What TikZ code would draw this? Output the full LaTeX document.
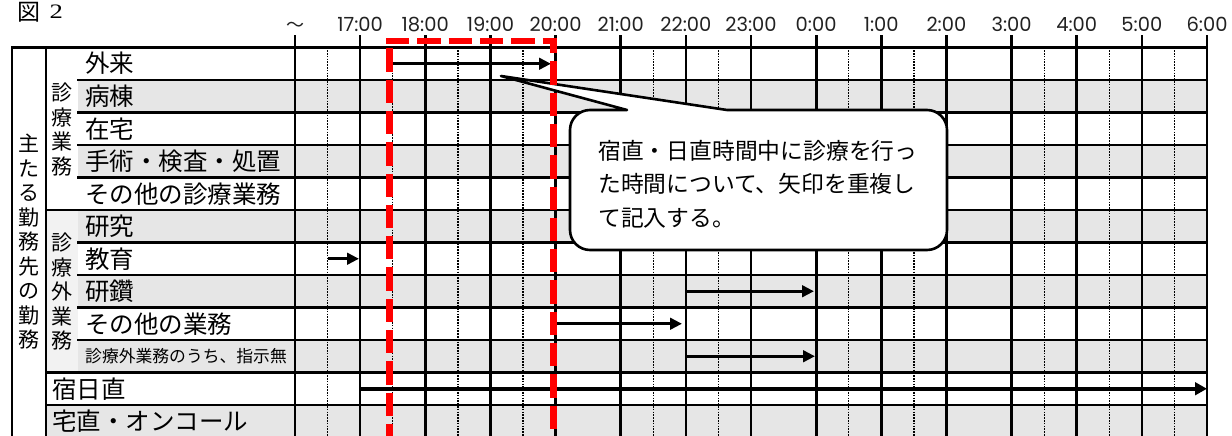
\documentclass[tikz,border=0pt]{standalone}
\usepackage{fontspec}
\newfontfamily\jp{Noto Sans CJK JP}
\newfontfamily\tm{Poppins}
\newfontfamily\sr{Liberation Serif}
\usetikzlibrary{arrows.meta}
\definecolor{rowgray}{HTML}{E6E6E6}
\definecolor{colgray}{HTML}{F2F2F2}
\definecolor{dashred}{HTML}{FF0000}
\definecolor{timeink}{HTML}{222222}
\tikzset{
  gridline/.style={line width=2.7pt, line cap=rect},
  halfline/.style={line width=1.3pt, dash pattern=on 1.6pt off 1.2pt},
  rowlabel/.style={font=\jp\fontsize{24.5}{24.5}\selectfont, anchor=base west, inner sep=0pt},
  smalllabel/.style={font=\jp\fontsize{16.8}{16.8}\selectfont, anchor=base west, inner sep=0pt},
  vlabel/.style={font=\jp\fontsize{21}{24.5}\selectfont, align=center, inner sep=0pt},
  timelabel/.style={font=\tm\fontsize{19.5}{19.5}\selectfont, text=timeink, anchor=base, inner sep=0pt},
  calltext/.style={font=\jp\fontsize{22.8}{22.8}\selectfont, anchor=base west, inner sep=0pt},
  timearrow/.style={line width=3.3pt, -{Triangle[length=12pt,width=11.5pt]}},
  longarrow/.style={line width=4.3pt, -{Triangle[length=12pt,width=12.5pt]}},
  calloutshape/.style={line width=2.6pt, fill=white, line join=round},
  reddash/.style={draw=dashred, line width=6.6pt, dash pattern=on 23.3pt off 8pt},
}
\begin{document}
\begin{tikzpicture}[x=1pt,y=-1pt]
\useasboundingbox (0,0) rectangle (1232,436);
\clip (0,0) rectangle (1232,436);
\fill[white] (0,0) rectangle (1232,436);

% shading
\foreach \r in {1,3,5,7,9}{
  \fill[rowgray] (78,{47.5+32.5*\r}) rectangle (1207,{80+32.5*\r});
}
\fill[rowgray] (46,405) rectangle (1207,440);
\fill[colgray] (46,210) rectangle (78,372.5);

% half-hour dotted lines
\foreach \h in {0,1,2,3,5,6,8,9,11,12,13}{
  \draw[halfline] ({295+65.143*(\h+0.5)},47.5) -- ({295+65.143*(\h+0.5)},440);
}
% hour lines
\foreach \k in {0,...,14}{
  \draw[gridline] ({295+65.143*\k},36) -- ({295+65.143*\k},440);
}
% left borders
\draw[gridline] (12,47.5) -- (12,440);
\draw[gridline] (46,47.5) -- (46,440);
% horizontal lines
\foreach \y/\xs in {47.5/12, 80/78, 112.5/78, 145/78, 177.5/78, 210/46, 242.5/78, 275/78, 307.5/78, 340/78, 372.5/46, 405/46}{
  \draw[gridline] (\xs,\y) -- (1207,\y);
}

% header
\node[anchor=base west, font=\jp\fontsize{23}{23}\selectfont, inner sep=0pt] (fig) at (17.5,20.5) {図};
\node[anchor=base west, font=\sr\fontsize{20.5}{20.5}\selectfont, inner sep=0pt] (fignum) at (49.5,18.8) {\scalebox{1.3}[1]{2}};

% time labels
\node[timelabel, font=\jp\fontsize{18}{18}\selectfont] (t0) at (295,32) {～};
\foreach \k/\t in {1/17:00,2/18:00,3/19:00,4/20:00,5/21:00,6/22:00,7/23:00,8/0:00,9/1:00,10/2:00,11/3:00,12/4:00,13/5:00,14/6:00}{
  \node[timelabel] (t\k) at ({295+65.143*\k},32) {\t};
}

% vertical labels
\node[vlabel] (main) at (29,242) {主\\た\\る\\勤\\務\\先\\の\\勤\\務};
\node[vlabel] (clin) at (62,129.5) {診\\療\\業\\務};
\node[vlabel] (nonclin) at (62,292) {診\\療\\外\\業\\務};

% row labels
\node[rowlabel] (r0) at (85,73) {外来};
\node[rowlabel] (r1) at (85,105.5) {病棟};
\node[rowlabel] (r2) at (85,138) {在宅};
\node[rowlabel] (r3) at (85,170.5) {手術・検査・処置};
\node[rowlabel] (r4) at (85,203) {その他の診療業務};
\node[rowlabel] (r5) at (85,235.5) {研究};
\node[rowlabel] (r6) at (85,268) {教育};
\node[rowlabel] (r7) at (85,300.5) {研鑽};
\node[rowlabel] (r8) at (85,333) {その他の業務};
\node[smalllabel] (r9) at (85,362.5) {診療外業務のうち、指示無};
\node[rowlabel] (r10) at (52,398) {宿日直};
\node[rowlabel] (r11) at (52,430.5) {宅直・オンコール};

% arrows
\coordinate (a1s) at (393,63.75);   \coordinate (a1e) at (551,63.75);
\coordinate (a2s) at (328,258.75);  \coordinate (a2e) at (359,258.75);
\coordinate (a3s) at (687,291.25);  \coordinate (a3e) at (814,291.25);
\coordinate (a4s) at (557,323.75);  \coordinate (a4e) at (682,323.75);
\coordinate (a5s) at (687,356.25);  \coordinate (a5e) at (815,356.25);
\coordinate (a6s) at (360,388.75);  \coordinate (a6e) at (1207,388.75);
\draw[timearrow] (a1s) -- (a1e);
\draw[timearrow] (a2s) -- (a2e);
\draw[timearrow] (a3s) -- (a3e);
\draw[timearrow] (a4s) -- (a4e);
\draw[timearrow] (a5s) -- (a5e);
\draw[longarrow] (a6s) -- (a6e);

% callout
\coordinate (tip) at (501,76);
\draw[calloutshape] (627,110) -- (tip) -- (727,110) -- (927,110)
  arc[start angle=270, end angle=360, radius=20] -- (947,230)
  arc[start angle=0, end angle=90, radius=20] -- (590,250)
  arc[start angle=90, end angle=180, radius=20] -- (570,130)
  arc[start angle=180, end angle=270, radius=20] -- cycle;
\node[calltext] (cl1) at (598,159) {宿直・日直時間中に診療を行っ};
\node[calltext] (cl2) at (598,192.5) {た時間について、矢印を重複し};
\node[calltext] (cl3) at (598,226) {て記入する。};

% red dashed frame
\draw[reddash] (386,41) -- (553.5,41) -- (553.5,445);
\draw[reddash, dash phase=24pt] (389.5,41) -- (389.5,445);
\end{tikzpicture}
\end{document}
